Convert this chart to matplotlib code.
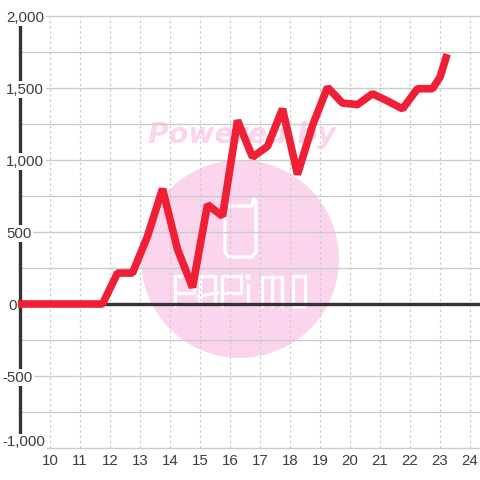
import matplotlib
matplotlib.use("Agg")
import matplotlib.pyplot as plt
from matplotlib.patches import Circle
from matplotlib.transforms import Affine2D

plt.rcParams['font.family'] = ['Liberation Sans', 'DejaVu Sans']

# hours / value
hours = [9, 11.75, 12.25, 12.75, 13.25, 13.75, 14.25, 14.75, 15.25, 15.75, 16.25, 16.75,
         17.25, 17.75, 18.25, 18.75, 19.25, 19.75, 20.25, 20.75, 21.25, 21.75, 22.25,
         22.75, 23, 23.2]
values = [0, 0, 215, 215, 470, 800, 380, 115, 690, 610, 1275, 1020,
          1095, 1355, 900, 1240, 1505, 1395, 1385, 1460, 1410, 1355, 1495,
          1495, 1575, 1710]

x_ticks = list(range(10, 25))
y_major = [2000, 1500, 1000, 500, 0, -500, -1000]
y_minor = [1750, 1250, 750, 250, -250, -750]
y_labels = ['2,000', '1,500', '1,000', '500', '0', '-500', '-1,000']

TEXT = '#3d3d3d'
GRID = '#cccccc'
DARK = '#333333'
RED = '#ef2035'
PINK = '#fbd5ee'

fig = plt.figure(figsize=(4.8, 4.8), dpi=100, facecolor='white')
ax = fig.add_axes([20 / 480, 32 / 480, 460 / 480, 432 / 480], zorder=1)
ax.set_xlim(9, 24.333)
ax.set_ylim(-1000, 2000)
ax.patch.set_alpha(0)
for s in ax.spines.values():
    s.set_visible(False)
ax.set_xticks([])
ax.set_yticks([])

# pixel coords, origin top left, for the watermark only
px = Affine2D().scale(1, -1).translate(0, 480)

fig.add_artist(Circle((240, 259), 99, fc=PINK, ec='none', transform=px, zorder=0))
fig.text(242, 135, 'Powered by', color=PINK, family='DejaVu Sans', weight='bold',
         style='oblique', fontsize=20.4, ha='center', va='center', transform=px, zorder=0)


def stroke(xs, ys, lw=2.3):
    fig.add_artist(plt.Line2D(xs, ys, color='white', lw=lw, transform=px, zorder=0,
                              solid_capstyle='round', solid_joinstyle='round'))


# phone icon
stroke([225, 225, 228, 252, 256, 256, 254, 252, 229, 225],
       [207, 252, 257, 257, 252, 201, 199, 206, 206, 207])
# PAPiMO lettering
stroke([175, 175, 194, 194, 175], [306, 276, 276, 293, 293])
stroke([200, 200, 215, 215], [304, 276, 276, 304])
stroke([198, 218], [296, 293])
stroke([222, 222, 241, 241, 222], [306, 276, 276, 293, 293])
stroke([248, 248], [285, 305])
fig.add_artist(Circle((248, 277), 2.8, fc='white', ec='none', transform=px, zorder=0))
stroke([262, 262, 282, 282], [306, 277, 277, 306])
stroke([272, 272], [277, 306])
stroke([293, 293, 305, 305, 293], [276, 306, 306, 276, 276])

# grid
for v in y_major + y_minor:
    ax.axhline(v, color=GRID, lw=1.0, zorder=2, clip_on=False)
for h in x_ticks:
    ax.axvline(h, color=GRID, lw=0.9, ls=(0, (2, 2.2)), zorder=2)

# axis lines
ax.plot([9, 9], [-917, 1944], color=DARK, lw=2.4, zorder=3, clip_on=False, solid_capstyle='butt')
ax.axhline(0, color=DARK, lw=2.4, zorder=3)

ax.plot(hours, values, color=RED, lw=5.5, zorder=5, clip_on=False,
        solid_capstyle='projecting', solid_joinstyle='bevel')

# value labels sit on a white box that cuts the axis line
for v, lab in zip(y_major, y_labels):
    left = 2 if v < 0 else (8 if v == 0 else 6)
    dy = 7 if v == -1000 else 0
    fig.text(left, 305.5 - v * 0.144 - dy, lab, color=TEXT, fontsize=10.8, ha='left', va='center',
             transform=px, zorder=4 if v else 6, bbox=dict(fc='white', ec='none', pad=1.2))

for h in x_ticks:
    ax.annotate(str(h), xy=(h, -1000), xytext=(0, -13), textcoords='offset pixels',
                color=TEXT, fontsize=10.8, ha='center', va='center', annotation_clip=False)

fig.savefig('out.png', dpi=100)
